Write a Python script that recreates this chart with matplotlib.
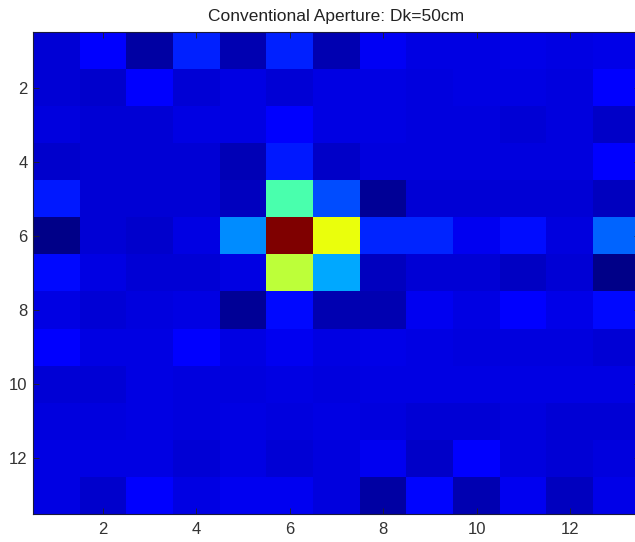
import numpy as np
import matplotlib.pyplot as plt

plt.rcParams['font.family'] = ['Liberation Sans', 'DejaVu Sans']

# normalised intensity per cell, row 1 at the top
row01 = [.077, .122, .033, .160, .044, .160, .044, .105, .088, .088, .092, .088, .092]
row02 = [.077, .070, .115, .077, .088, .077, .088, .088, .084, .088, .088, .084, .118]
row03 = [.084, .077, .077, .088, .088, .118, .088, .088, .084, .084, .077, .084, .066]
row04 = [.070, .077, .077, .077, .048, .150, .066, .084, .084, .084, .084, .084, .118]
row05 = [.150, .077, .077, .077, .055, .440, .200, .022, .077, .077, .077, .077, .055]
row06 = [.011, .077, .070, .088, .265, 1.00, .635, .163, .163, .099, .138, .084, .225]
row07 = [.135, .088, .077, .077, .088, .580, .290, .055, .077, .077, .062, .077, .011]
row08 = [.088, .077, .084, .088, .022, .135, .044, .044, .099, .088, .115, .092, .135]
row09 = [.122, .088, .088, .115, .088, .099, .088, .092, .088, .084, .084, .084, .077]
row10 = [.077, .077, .088, .084, .084, .088, .084, .088, .088, .088, .088, .088, .088]
row11 = [.084, .084, .088, .084, .088, .084, .088, .084, .077, .077, .084, .077, .077]
row12 = [.088, .088, .088, .077, .088, .077, .084, .099, .066, .115, .084, .077, .084]
row13 = [.088, .070, .118, .088, .099, .099, .084, .033, .130, .044, .099, .055, .092]

ticks = [2, 4, 6, 8, 10, 12]
title = 'Conventional Aperture: Dk=50cm'

grid = np.array([row01, row02, row03, row04, row05, row06, row07,
                 row08, row09, row10, row11, row12, row13])
ny, nx = grid.shape

fig = plt.figure(figsize=(6.35, 5.42), dpi=100)
# axes run a little past the right edge of the figure
ax = fig.add_axes([33/635, 28/542, 607/635, 482/542])
ax.imshow(grid, cmap='jet', vmin=0, vmax=1, aspect='auto',
          interpolation='nearest',
          extent=[0.5, nx + 0.5, ny + 0.5, 0.5])

ax.set_xticks(ticks)
ax.set_yticks(ticks)
ax.tick_params(direction='in', length=4, width=0.6, color='#222222',
               labelsize=12, labelcolor='#333333', pad=6,
               top=True, right=True)
ax.tick_params(axis='y', pad=4)
for s in ax.spines.values():
    s.set_color('#1a1a3a')
    s.set_linewidth(0.8)

ax.set_title(title, fontsize=12.5, color='#222222', pad=8)

fig.savefig('out.png', dpi=100)
